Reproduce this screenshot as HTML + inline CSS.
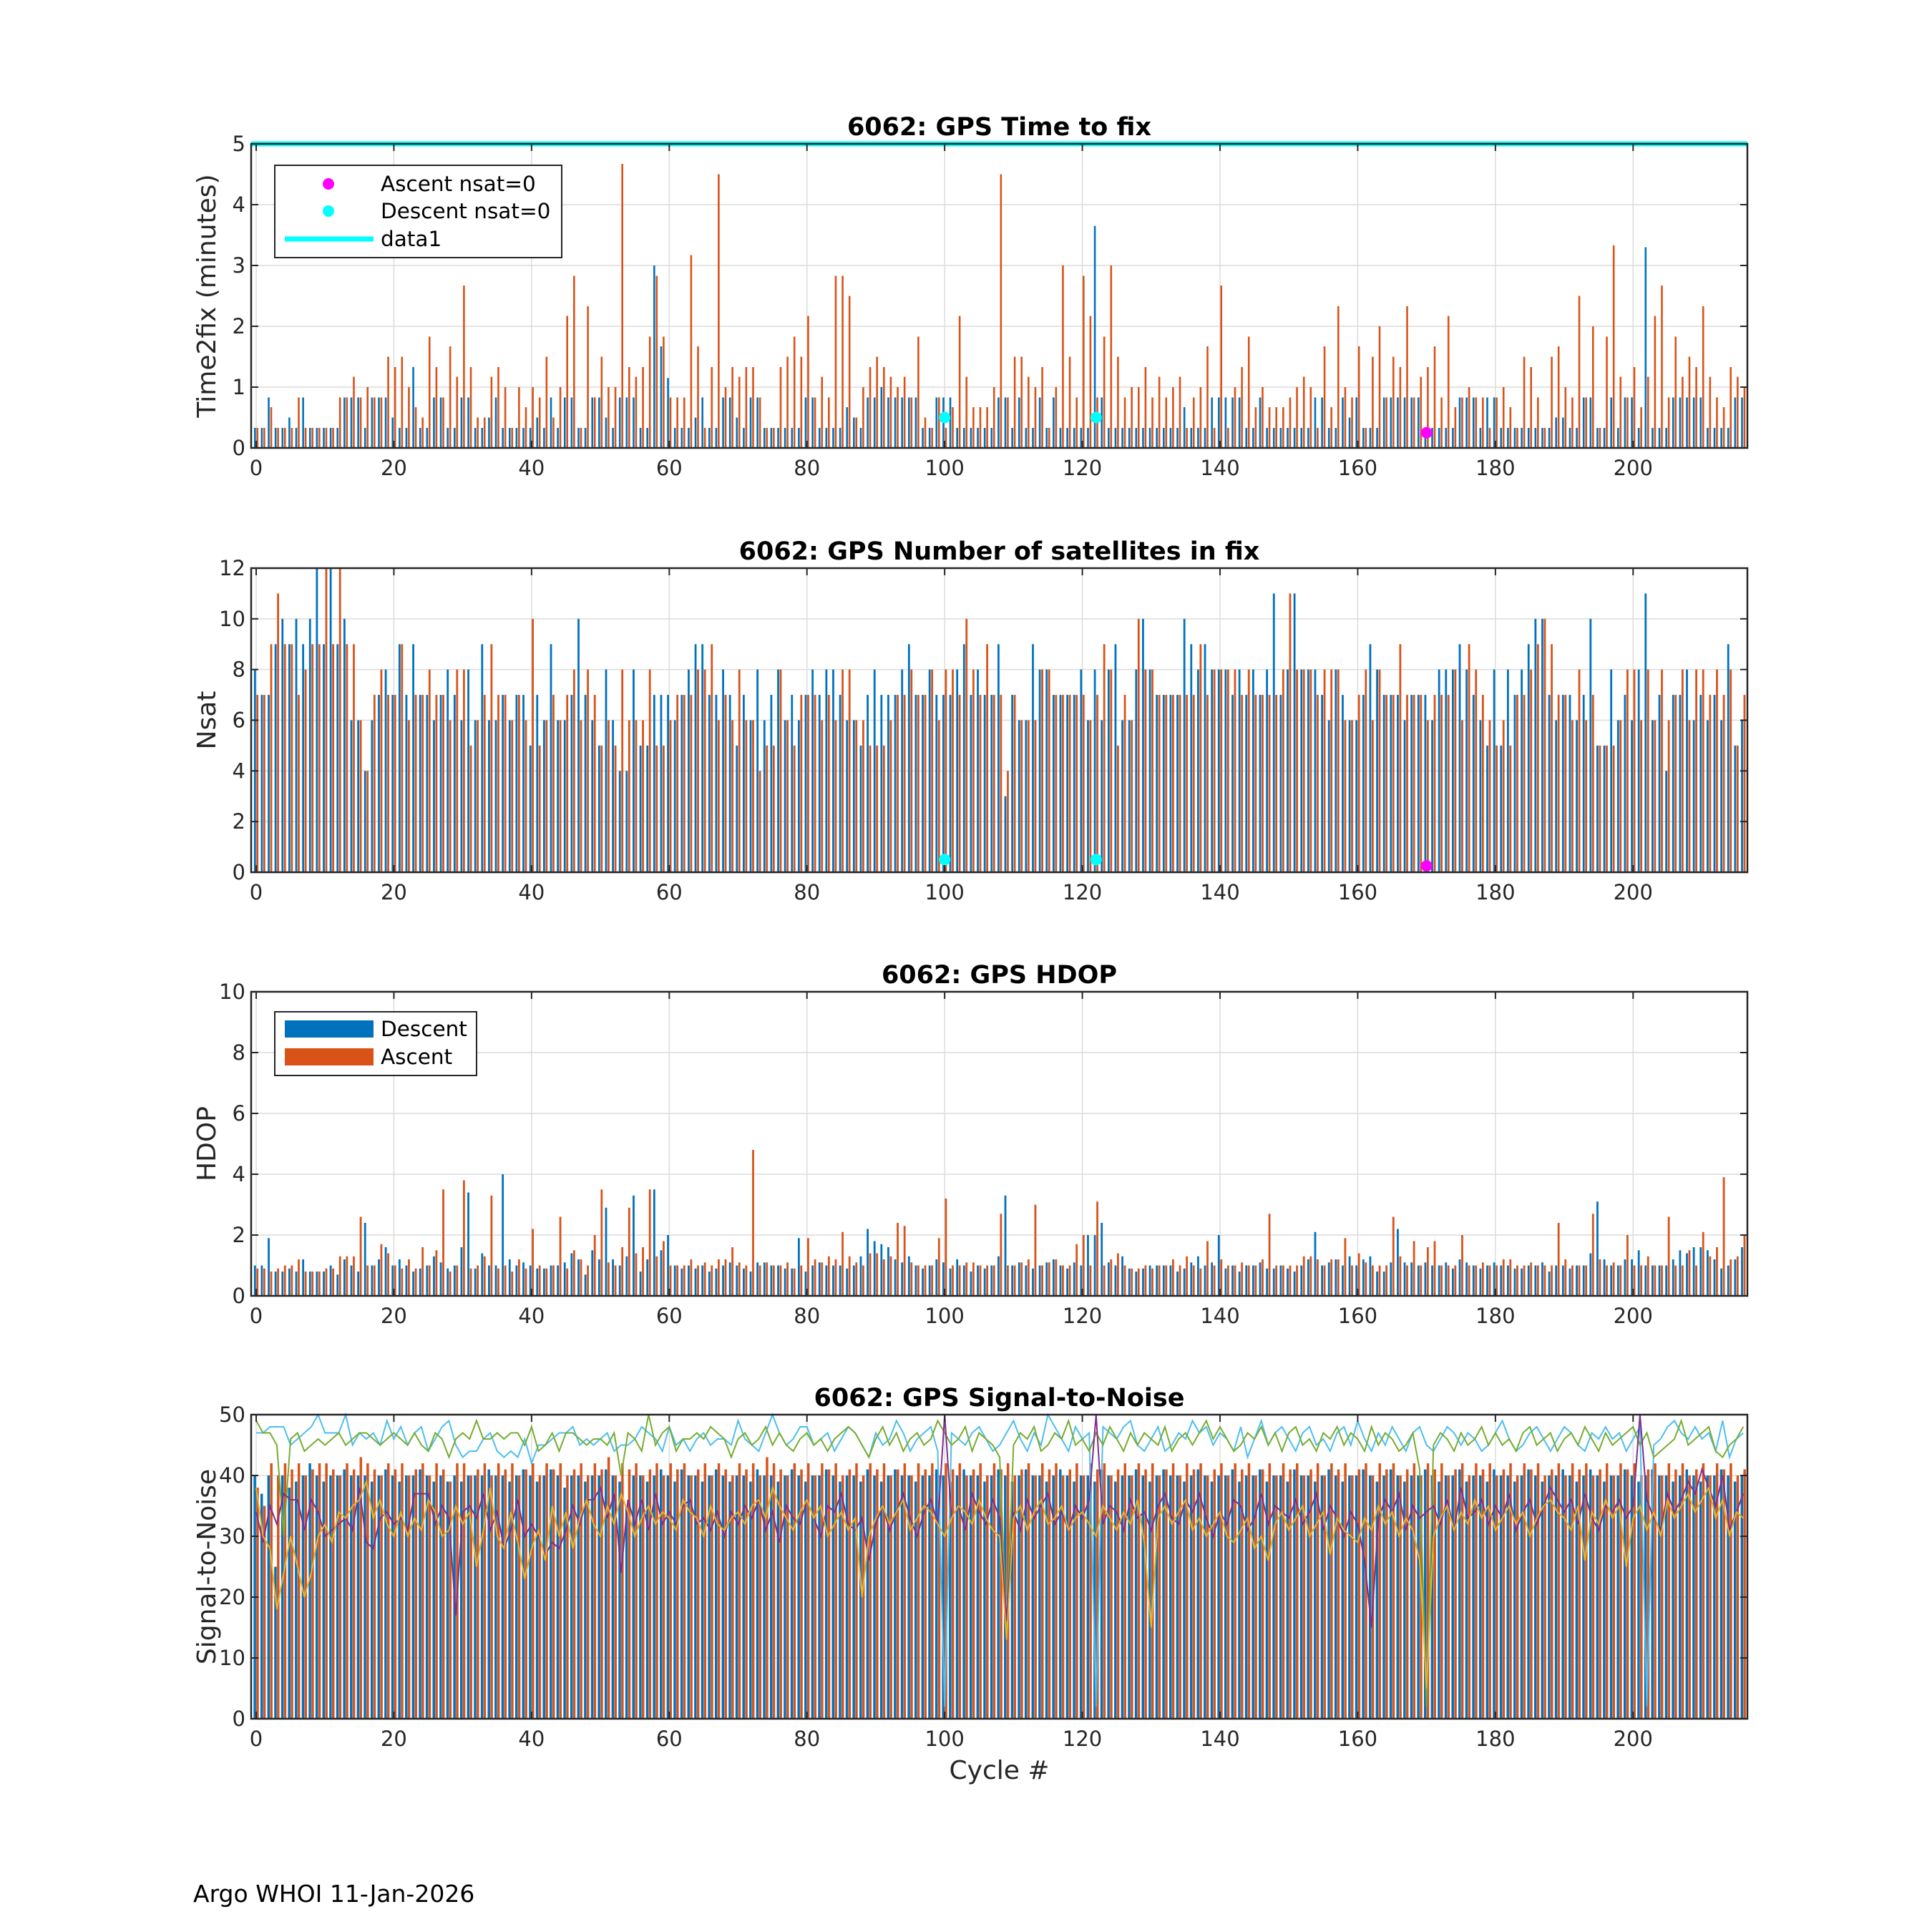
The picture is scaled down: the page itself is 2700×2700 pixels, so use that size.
<!DOCTYPE html>
<html><head><meta charset="utf-8">
<style>
html,body{margin:0;padding:0;background:#fff;}
svg{display:block;font-family:"DejaVu Sans","Liberation Sans",sans-serif;}
</style></head>
<body>
<svg id="chart" width="2700" height="2700" viewBox="0 0 2700 2700" xmlns="http://www.w3.org/2000/svg">
<rect width="2700" height="2700" fill="#fff"/>
<text x="270" y="2658" font-size="33" fill="#000">Argo WHOI 11-Jan-2026</text>
</svg>
<script>
const t2fDesc=[0.33,0.33,0.83,0.33,0.33,0.5,0.33,0.83,0.33,0.33,0.33,0.33,0.33,0.83,0.83,0.83,0.33,0.83,0.83,0.83,0.5,0.33,0.33,1.33,0.33,0.33,0.83,0.83,0.33,0.33,0.83,0.83,0.33,0.33,0.5,0.83,0.33,0.33,0.33,0.33,0.33,0.5,0.33,0.83,0.33,0.83,0.83,0.33,0.33,0.83,0.83,0.5,0.33,0.83,0.83,0.83,0.33,0.33,3.0,1.67,1.15,0.33,0.33,0.33,0.5,0.83,0.33,0.33,0.83,0.83,0.5,0.33,0.83,0.83,0.33,0.33,0.33,0.33,0.33,0.33,0.83,0.83,0.33,0.33,0.33,0.33,0.67,0.5,0.33,0.83,0.83,1.0,0.83,0.83,0.83,0.83,0.83,0.33,0.33,0.83,0.83,0.83,0.33,0.33,0.33,0.33,0.33,0.33,0.83,0.83,0.33,0.83,0.33,0.33,0.83,0.33,0.83,0.33,0.33,0.33,0.33,0.33,3.65,0.83,0.33,0.33,0.33,0.33,0.33,0.33,0.33,0.33,0.33,0.33,0.33,0.67,0.33,0.33,0.33,0.83,0.83,0.83,0.83,0.83,0.33,0.33,0.83,0.33,0.33,0.33,0.33,0.33,0.33,0.33,0.83,0.83,0.33,0.33,0.83,0.5,0.83,0.33,0.33,0.33,0.83,0.83,0.83,0.83,0.83,0.83,0.33,0.33,0.33,0.33,0.33,0.83,0.83,0.83,0.33,0.83,0.83,0.33,0.33,0.33,0.33,0.33,0.33,0.33,0.33,0.5,0.5,0.33,0.33,0.83,0.83,0.33,0.33,0.83,0.33,0.83,0.83,0.33,3.3,0.33,0.33,0.33,0.83,0.83,0.83,0.83,0.83,0.33,0.33,0.33,0.33,0.83,0.83];
const t2fAsc=[0.33,0.33,0.67,0.33,0.33,0.33,0.83,0.33,0.33,0.33,0.33,0.33,0.83,0.83,1.17,0.83,1.0,0.83,0.83,1.5,1.33,1.5,1.0,0.67,0.5,1.83,1.33,0.83,1.67,1.17,2.67,1.33,0.5,0.5,1.17,1.33,1.0,0.33,1.0,0.67,1.0,0.83,1.5,0.5,1.0,2.17,2.83,0.33,2.33,0.83,1.5,1.0,1.0,4.67,1.33,1.17,1.33,1.83,2.83,1.83,0.83,0.83,0.83,3.17,1.67,0.33,1.33,4.5,1.0,1.33,1.17,1.33,1.33,0.83,0.33,0.33,1.33,1.5,1.83,1.5,2.17,0.83,1.17,0.83,2.83,2.83,2.5,0.5,1.0,1.33,1.5,1.33,1.17,1.0,1.17,0.83,1.83,0.5,0.33,0.83,0.33,0.67,2.17,1.17,0.67,0.67,0.67,1.0,4.5,0.83,1.5,1.5,1.17,1.0,1.33,0.33,1.0,3.0,1.5,0.83,2.83,2.17,0.83,1.83,3.0,1.5,0.83,1.0,1.0,1.33,0.83,1.17,0.83,1.0,1.17,0.33,0.83,1.0,1.67,0.33,2.67,0.33,1.0,1.33,1.83,0.67,1.0,0.67,0.67,0.67,0.83,1.0,1.17,1.0,0.33,1.67,0.67,2.33,1.0,0.83,1.67,0.33,1.5,2.0,0.83,1.5,1.33,2.33,0.83,1.17,1.33,1.67,0.83,2.17,0.67,0.83,1.0,0.83,0.83,0.33,0.83,1.0,0.67,0.33,1.5,1.33,0.83,0.33,1.5,1.67,1.0,0.83,2.5,0.83,2.0,0.33,1.83,3.33,1.17,0.83,1.33,0.67,1.17,2.17,2.67,0.83,1.83,1.17,1.5,1.33,2.33,1.17,0.83,0.67,1.33,1.17,1.0];
const nsatDesc=[8,7,7,9,10,9,10,9,10,12,9,12,9,10,6,6,4,6,7,8,7,9,7,9,7,7,6,7,8,7,6,8,6,9,6,6,7,6,7,7,5,7,6,9,6,6,7,10,7,6,5,8,6,4,4,8,5,5,7,7,7,6,7,8,9,9,7,7,8,7,5,7,6,8,6,7,8,6,7,6,7,8,7,8,8,7,6,6,5,7,8,7,7,7,8,9,7,7,8,7,7,7,8,9,7,8,7,7,9,3,7,6,6,9,8,8,7,7,7,7,8,6,8,6,8,9,6,6,8,10,8,7,7,7,7,10,9,8,9,8,8,8,7,8,7,8,7,8,11,7,8,11,8,8,8,7,6,8,7,6,6,7,9,8,7,7,7,6,7,7,7,6,8,8,8,9,8,7,6,5,8,5,8,7,8,9,10,10,7,6,7,7,6,7,10,5,5,8,6,7,6,8,11,6,7,4,7,7,8,6,7,6,7,6,9,5,6];
const nsatAsc=[7,7,9,11,9,9,7,8,9,9,12,9,12,9,9,6,4,7,8,7,7,9,6,7,7,8,7,7,6,8,8,5,6,7,9,7,7,6,7,6,10,5,6,7,6,7,8,6,8,7,5,6,5,8,6,6,6,8,5,5,6,7,7,7,8,8,9,6,7,6,8,6,6,4,5,5,8,6,5,7,7,7,6,7,6,8,8,6,6,5,5,5,6,7,7,8,7,7,8,6,8,8,7,10,8,7,9,7,7,4,7,6,6,6,8,8,7,7,7,7,7,6,7,9,8,5,7,6,10,8,8,7,7,7,7,7,7,9,7,8,8,8,8,7,8,7,7,7,7,8,11,8,8,8,7,8,8,8,6,6,7,8,6,8,7,7,9,7,7,7,6,7,7,7,8,6,9,8,7,6,5,6,5,7,7,8,9,10,9,7,7,6,8,6,7,5,5,5,6,8,8,6,8,6,8,6,7,8,6,8,8,7,8,7,8,5,7];
const hdopDesc=[1.0,1.0,1.9,0.8,0.8,0.9,0.8,1.2,0.8,0.8,0.8,1.0,0.7,1.2,1.0,0.8,2.4,1.0,1.2,1.6,1.0,1.2,1.0,0.8,0.9,1.0,1.3,1.1,0.9,1.0,1.6,3.4,0.9,1.4,1.0,1.0,4.0,1.2,1.0,1.1,1.0,0.9,0.9,1.0,1.0,1.1,1.4,1.2,0.7,1.5,1.2,2.9,1.2,1.0,1.3,3.3,0.8,1.2,3.5,1.5,2.0,1.0,0.9,1.0,0.9,1.0,0.8,0.9,1.0,1.1,1.0,0.9,0.8,1.1,1.1,1.0,1.0,0.9,0.9,1.9,0.8,1.0,1.1,1.0,1.0,1.0,0.9,1.0,1.3,2.2,1.8,1.7,1.6,1.2,1.1,1.3,1.0,0.9,1.0,1.2,1.1,0.9,1.2,1.0,0.8,1.0,0.9,1.0,1.3,3.3,1.0,1.1,1.0,0.9,1.0,1.1,1.2,1.0,0.9,1.1,1.0,2.0,2.0,2.4,1.1,1.0,1.3,0.9,0.8,0.9,1.0,1.0,1.0,1.0,0.8,0.9,1.1,1.3,1.0,1.1,2.0,0.9,1.0,0.8,1.0,1.0,1.1,0.9,0.9,1.0,0.9,0.8,1.0,1.2,2.1,1.0,1.1,1.2,1.0,1.3,1.0,1.2,1.3,0.8,0.8,1.1,2.2,1.1,1.1,1.0,1.1,1.0,1.0,1.1,0.9,1.2,1.1,1.0,0.9,1.0,1.1,1.0,1.0,0.9,0.9,1.0,1.0,1.1,0.8,1.0,1.0,0.9,1.0,1.0,1.4,3.1,1.2,1.0,1.0,1.2,1.2,1.5,1.0,1.0,1.0,1.0,1.2,1.5,1.4,1.6,1.6,1.5,1.2,0.9,1.0,1.2,1.6];
const hdopAsc=[0.9,0.9,0.8,0.9,1.0,1.0,1.2,0.8,0.8,0.8,0.9,0.9,1.3,1.3,1.3,2.6,1.0,1.0,1.7,1.4,1.0,0.9,1.2,0.9,1.6,1.0,1.5,3.5,0.8,1.0,3.8,0.9,1.0,1.3,3.3,0.9,1.0,0.8,1.2,0.9,2.2,1.0,0.9,1.0,2.6,0.9,1.5,1.2,1.0,2.0,3.5,1.1,1.0,1.6,2.9,1.4,1.6,3.5,1.3,1.8,1.0,1.0,1.0,1.2,1.0,1.1,1.0,1.2,1.2,1.6,1.1,1.0,4.8,1.0,1.1,1.0,1.0,1.1,0.9,1.0,1.9,1.2,1.1,1.3,1.2,2.1,1.3,1.1,1.0,1.4,1.4,1.2,1.3,2.4,2.3,1.1,1.0,1.0,1.0,1.9,3.2,1.0,1.0,1.1,1.1,1.0,1.0,1.0,2.7,1.0,1.0,1.1,1.2,3.0,1.0,1.1,1.2,1.0,1.0,1.7,2.0,1.0,3.1,1.0,1.2,1.4,1.0,0.9,0.9,1.0,0.9,1.0,1.0,1.2,1.0,1.3,1.0,0.9,1.8,1.0,1.2,1.0,1.0,1.1,1.0,1.0,1.2,2.7,1.0,1.0,1.0,1.0,1.3,1.3,1.2,1.0,1.2,1.2,1.9,1.0,1.4,1.1,1.0,1.0,1.0,2.6,1.3,1.0,1.8,1.0,1.6,1.8,1.0,1.0,1.0,2.0,1.0,1.0,1.1,1.0,1.0,1.2,1.2,1.0,1.0,1.1,1.0,1.0,1.0,2.4,1.2,1.0,1.0,1.0,2.7,1.2,1.0,1.1,1.0,2.0,1.0,1.0,1.3,1.0,1.0,2.6,1.0,1.0,1.5,1.0,2.1,1.3,1.6,3.9,1.2,1.3,2.0];
const snrDesc=[40,37,40,25,40,38,39,40,42,40,39,40,40,41,40,40,40,39,40,41,40,39,40,40,41,40,39,40,39,40,39,40,40,40,41,40,40,39,40,41,40,39,40,41,40,38,40,40,39,40,40,41,40,39,35,40,40,39,40,41,40,39,41,40,40,39,40,41,40,39,40,40,39,41,40,40,39,40,41,40,39,40,40,41,40,39,40,40,39,41,40,39,40,41,40,40,39,40,40,41,40,39,40,41,40,40,39,40,41,40,39,40,41,40,40,39,40,41,40,39,40,40,39,41,40,39,40,40,41,40,39,40,41,40,40,39,40,41,40,39,40,40,41,39,40,40,41,39,40,40,39,41,40,40,39,40,41,40,39,40,40,41,40,39,40,41,40,39,40,40,41,40,39,40,40,41,39,40,40,39,41,40,40,39,40,41,40,39,40,40,41,40,39,40,41,40,39,40,40,41,40,39,40,41,40,40,39,40,41,40,39,40,40,41,40,39,40];
const snrAsc=[38,35,42,40,42,41,42,40,41,42,42,41,40,42,41,43,42,41,40,42,41,42,40,41,42,40,42,41,39,42,42,40,41,42,40,42,41,42,40,41,42,40,42,41,42,40,41,42,40,42,41,43,40,42,41,42,40,41,42,40,42,41,42,40,41,42,40,42,41,40,42,41,42,40,43,42,41,40,42,41,42,40,42,41,42,40,41,42,40,42,41,42,40,41,42,40,42,41,42,40,42,41,42,40,41,42,40,42,41,42,40,41,42,40,42,41,42,40,41,42,40,42,41,42,40,41,42,40,42,41,42,40,41,42,40,42,41,42,40,41,42,40,42,41,42,40,41,42,40,42,41,42,40,41,42,40,42,41,42,40,41,42,40,42,41,42,40,41,42,40,42,41,42,40,41,42,40,42,41,42,40,41,42,40,42,41,42,40,41,42,40,42,41,42,40,41,42,40,42,41,42,40,41,42,40,42,41,42,40,41,42,40,42,41,42,40,41];
const snrLightBlue=[47,47,48,48,48,45,46,47,48,50,47,47,47,50,45,47,46,47,45,49,46,48,45,47,48,44,46,48,49,45,43,44,44,46,47,44,43,44,43,46,42,45,45,46,47,47,48,45,46,45,46,47,44,45,45,46,48,47,46,44,48,45,46,44,46,47,45,46,46,45,49,46,45,44,47,50,47,45,46,48,48,45,46,47,44,46,48,47,45,43,47,45,46,49,47,44,46,47,48,44,2,47,46,45,47,48,46,44,45,47,49,46,44,47,45,50,48,46,44,48,46,47,2,48,47,46,48,49,45,44,46,48,44,45,47,46,49,47,48,45,47,46,44,48,43,46,49,45,47,48,46,44,47,48,45,46,44,47,48,45,49,46,44,47,45,48,46,44,47,48,45,44,46,48,47,45,47,46,44,45,47,49,46,44,45,47,48,46,44,46,48,47,45,44,47,46,48,46,47,44,46,48,2,45,46,48,49,47,46,48,46,47,44,49,43,46,47];
const snrGreen=[49,47,47,45,30,46,47,44,45,46,45,46,47,45,46,47,47,46,45,46,47,46,45,47,45,44,47,46,43,46,47,46,49,46,46,47,46,47,47,45,48,44,45,47,44,47,47,46,45,46,46,45,47,40,47,46,44,50,45,47,48,44,46,46,47,46,48,47,46,43,46,47,45,46,48,45,47,45,44,46,47,45,46,44,46,47,48,47,45,43,46,48,45,47,44,46,47,45,46,49,47,45,46,48,44,47,46,45,43,15,45,47,46,48,44,45,47,46,49,45,46,44,47,45,48,46,44,47,45,47,46,45,48,44,46,47,45,47,49,46,48,46,44,45,47,46,48,45,47,44,47,48,45,46,44,47,46,48,45,47,46,44,48,45,47,46,44,45,47,41,2,45,47,46,44,47,45,46,48,45,47,45,46,44,47,48,45,46,47,44,46,47,45,48,46,44,47,45,46,47,48,45,47,43,44,45,46,49,45,46,47,48,44,43,45,46,48];
const snrPurple=[34,29,35,32,37,36,36,31,36,34,30,31,32,33,31,38,29,28,33,34,32,33,31,37,37,37,32,35,33,17,34,35,33,37,31,34,28,31,36,30,32,30,27,29,28,31,35,32,36,36,38,33,37,24,36,32,36,31,37,32,34,32,35,36,32,33,31,34,30,34,32,35,33,36,31,34,29,35,33,32,36,33,30,35,34,37,32,31,33,26,32,35,31,34,37,33,30,34,36,32,50,33,35,31,37,34,32,36,33,16,34,31,36,33,35,37,32,34,31,35,33,36,50,32,35,34,31,36,33,34,31,35,37,33,32,36,34,37,33,30,34,32,36,35,31,33,37,32,35,34,33,36,32,34,37,31,35,33,30,34,32,26,15,33,36,34,37,31,35,33,34,35,32,36,31,38,33,34,36,32,35,33,37,31,34,36,32,35,38,36,34,36,32,37,33,31,35,34,36,33,35,50,36,33,31,37,34,36,39,37,41,38,35,40,31,34,37];
const snrYellow=[38,30,28,18,24,30,25,20,24,30,32,29,34,33,35,36,39,33,36,32,30,34,30,33,31,36,34,30,31,35,32,34,25,31,38,30,28,34,29,23,28,31,26,35,30,34,28,33,36,32,30,35,32,37,34,30,33,35,32,34,33,31,36,34,33,30,35,32,31,33,34,32,35,36,33,38,35,33,31,34,36,33,35,30,32,34,31,33,20,30,33,35,32,34,36,31,33,35,34,32,30,33,35,34,32,36,33,31,30,13,33,35,31,34,36,32,33,35,31,33,34,32,30,35,33,31,34,32,36,29,15,33,35,32,34,36,31,33,30,32,34,30,29,31,33,28,30,26,32,34,31,33,35,30,32,34,27,33,31,30,29,33,31,35,32,34,30,33,31,26,5,30,33,35,31,34,32,36,33,35,31,33,35,32,34,30,33,35,36,34,33,31,35,26,34,32,36,33,35,25,33,35,31,34,30,36,33,35,37,34,36,38,33,36,30,34,33];
const descNsat0Cycles=[100,122];
const ascNsat0Cycles=[170];
const xTicks=[0,20,40,60,80,100,120,140,160,180,200];

const NS='http://www.w3.org/2000/svg';
const svg=document.getElementById('chart');
const L=351,R=2442,XMIN=-0.73,XMAX=216.6,PH=425;
const BLUE='#0072BD',ORANGE='#D95319';
function xs(v){return L+(v-XMIN)/(XMAX-XMIN)*(R-L);}
function mk(tag,attrs,parent){const e=document.createElementNS(NS,tag);for(const k in attrs)e.setAttribute(k,attrs[k]);(parent||svg).appendChild(e);return e;}

function panel(cfg){
  const g=mk('g',{});
  
  
  const T=cfg.top,B=cfg.top+PH;
  const ys=v=>B-(v-cfg.ymin)/(cfg.ymax-cfg.ymin)*(B-T);
  xTicks.forEach(t=>{const l=mk('line',{x1:xs(t),x2:xs(t),y1:T,y2:B,stroke:'#dcdcdc','stroke-width':1.5},g);});
  cfg.yticks.forEach(t=>{const l=mk('line',{x1:L,x2:R,y1:ys(t),y2:ys(t),stroke:'#dcdcdc','stroke-width':1.5},g);});
  const bw=cfg.bw,off=cfg.off;
  [[cfg.desc,BLUE,-off,'descent-bar'],[cfg.asc,ORANGE,off,'ascent-bar']].forEach(([arr,col,o,nm])=>{
    arr.forEach((v,i)=>{const x=xs(i+o)-bw/2,y=ys(Math.min(v,cfg.ymax));
      const r=mk('rect',{x:x,y:y,width:bw,height:Math.max(0,B-y),fill:col},g);
      
      });
  });
  if(cfg.extra)cfg.extra(g,ys,T,B);
  const bx=mk('rect',{x:L,y:T,width:R-L,height:B-T,fill:'none',stroke:'#262626','stroke-width':2.5},g);
  
  xTicks.forEach(t=>{
    mk('line',{x1:xs(t),x2:xs(t),y1:B,y2:B-10,stroke:'#262626','stroke-width':2},g);
    mk('line',{x1:xs(t),x2:xs(t),y1:T,y2:T+10,stroke:'#262626','stroke-width':2},g);
    const tx=mk('text',{x:xs(t),y:B+38,'font-size':29,'text-anchor':'middle',fill:'#262626'},g);tx.textContent=t;
    
  });
  cfg.yticks.forEach(t=>{
    mk('line',{x1:L,x2:L+10,y1:ys(t),y2:ys(t),stroke:'#262626','stroke-width':2},g);
    mk('line',{x1:R,x2:R-10,y1:ys(t),y2:ys(t),stroke:'#262626','stroke-width':2},g);
    const tx=mk('text',{x:L-8,y:ys(t)+10,'font-size':29,'text-anchor':'end',fill:'#262626'},g);tx.textContent=t;
    
  });
  const ti=mk('text',{x:(L+R)/2,y:T-12,'font-size':35,'font-weight':'bold','text-anchor':'middle',fill:'#000'},g);ti.textContent=cfg.title;
  
  const yl=mk('text',{x:0,y:0,'font-size':36,'text-anchor':'middle',fill:'#262626',transform:`translate(${L-50},${(T+B)/2}) rotate(-90)`},g);yl.textContent=cfg.ylabel;
  
}

function markers(g,ys){
  descNsat0Cycles.forEach(c=>{const m=mk('circle',{cx:xs(c),cy:ys(0.5),r:8,fill:'#00FFFF'},g);});
  ascNsat0Cycles.forEach(c=>{const m=mk('circle',{cx:xs(c),cy:ys(0.25),r:8,fill:'#FF00FF'},g);});
}

panel({name:'time-to-fix-panel',top:201,ymin:0,ymax:5,yticks:[0,1,2,3,4,5],desc:t2fDesc,asc:t2fAsc,bw:2.6,off:0.18,title:'6062: GPS Time to fix',ylabel:'Time2fix (minutes)',
 extra:(g,ys)=>{markers(g,ys);const l=mk('line',{x1:L,x2:R,y1:ys(5),y2:ys(5),stroke:'#00FFFF','stroke-width':7},g);}});
panel({name:'nsat-panel',top:794,ymin:0,ymax:12,yticks:[0,2,4,6,8,10,12],desc:nsatDesc,asc:nsatAsc,bw:2.8,off:0.18,title:'6062: GPS Number of satellites in fix',ylabel:'Nsat',extra:(g,ys)=>markers(g,ys)});
panel({name:'hdop-panel',top:1386,ymin:0,ymax:10,yticks:[0,2,4,6,8,10],desc:hdopDesc,asc:hdopAsc,bw:2.8,off:0.18,title:'6062: GPS HDOP',ylabel:'HDOP'});
panel({name:'snr-panel',top:1977,ymin:0,ymax:50,yticks:[0,10,20,30,40,50],desc:snrDesc,asc:snrAsc,bw:3.5,off:0.2,title:'6062: GPS Signal-to-Noise',ylabel:'Signal-to-Noise',
 extra:(g,ys)=>{
  [[snrLightBlue,'#4DBEEE','snr-line-lightblue'],[snrGreen,'#77AC30','snr-line-green'],[snrPurple,'#7E2F8E','snr-line-purple'],[snrYellow,'#EDB120','snr-line-yellow']].forEach(([arr,col,nm])=>{
    const pts=arr.map((v,i)=>xs(i).toFixed(1)+','+ys(v).toFixed(1)).join(' ');
    const p=mk('polyline',{points:pts,fill:'none',stroke:col,'stroke-width':2},g);
    
    
  });
 }});

const xl=mk('text',{x:(L+R)/2,y:2486,'font-size':36,'text-anchor':'middle',fill:'#262626'});xl.textContent='Cycle #';


const lg1=mk('g',{});


mk('rect',{x:384,y:231,width:401,height:129,fill:'#fff',stroke:'#262626','stroke-width':2},lg1);
mk('circle',{cx:459,cy:257,r:8,fill:'#FF00FF'},lg1);
mk('circle',{cx:459,cy:295,r:8,fill:'#00FFFF'},lg1);
mk('line',{x1:398,x2:522,y1:334,y2:334,stroke:'#00FFFF','stroke-width':7},lg1);
[['Ascent nsat=0',267],['Descent nsat=0',305],['data1',344]].forEach(([t,y])=>{const tx=mk('text',{x:532,y:y,'font-size':29.5,fill:'#000'},lg1);tx.textContent=t;});
const lg3=mk('g',{});


mk('rect',{x:384,y:1414,width:282,height:89,fill:'#fff',stroke:'#262626','stroke-width':2},lg3);
mk('rect',{x:398,y:1426,width:124,height:24,fill:BLUE},lg3);
mk('rect',{x:398,y:1465,width:124,height:24,fill:ORANGE},lg3);
[['Descent',1448],['Ascent',1487]].forEach(([t,y])=>{const tx=mk('text',{x:532,y:y,'font-size':29.5,fill:'#000'},lg3);tx.textContent=t;});
</script>
</body></html>
